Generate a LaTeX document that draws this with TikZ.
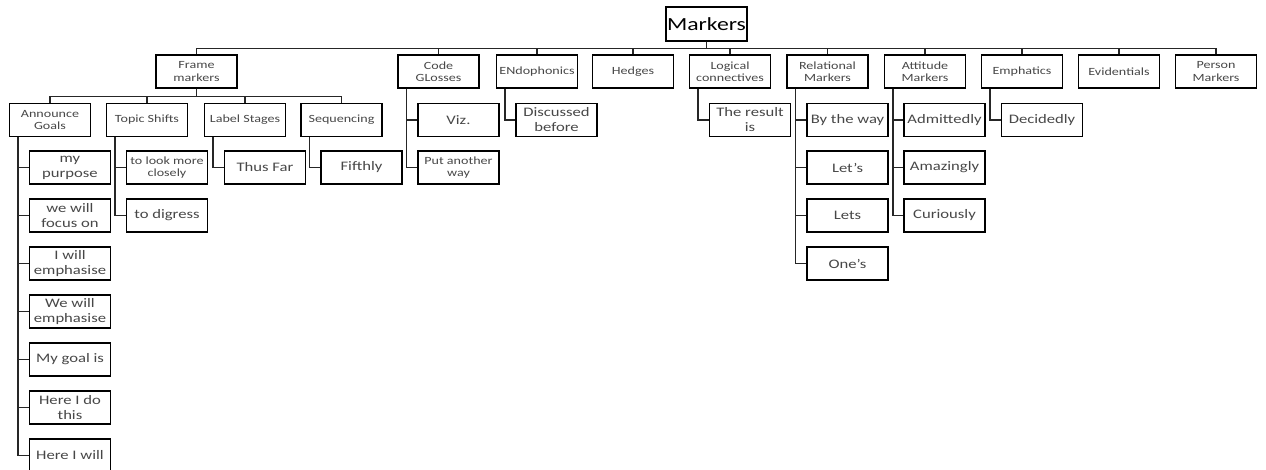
\documentclass[tikz,border=0pt]{standalone}
\usepackage{fontspec}
\setmainfont{Carlito}[FakeStretch=1.28]
\begin{document}
\begin{tikzpicture}[x=1pt,y=-1pt,
  box/.style={draw=black,line width=1.3pt,minimum width=81pt,minimum height=33pt,inner sep=1pt,align=center,text=black!72},
  sm/.style={box,font=\fontsize{11}{12.4}\selectfont},
  md/.style={box,font=\fontsize{13}{15}\selectfont},
  link/.style={draw=black!85,line width=1.3pt}]
\useasboundingbox (0,0) rectangle (1266,469);
\clip (0,0) rectangle (1266,469);
% root
\node[box,minimum width=80pt,minimum height=34pt,font=\fontsize{18.5}{20}\selectfont,text=black] (root) at (706.5,24) {Markers};
% level 1
\node[sm] (fm) at (196.5,71.5) {Frame\\markers};
\node[sm] (cg) at (438.5,71.5) {Code\\GLosses};
\node[sm] (en) at (537,71.5) {ENdophonics};
\node[sm] (hd) at (633,71.5) {Hedges};
\node[sm] (lc) at (730,71.5) {Logical\\connectives};
\node[sm] (rm) at (827.5,71.5) {Relational\\Markers};
\node[sm] (am) at (925,71.5) {Attitude\\Markers};
\node[sm] (em) at (1022,71.5) {Emphatics};
\node[sm] (ev) at (1119,71.5) {Evidentials};
\node[sm] (pm) at (1216,71.5) {Person\\Markers};
\foreach \c in {fm,cg,en,hd,lc,rm,am,em,ev,pm}
  \draw[link] (root.south) -- ++(0,7) -| (\c.north);
% level 2 under frame markers
\node[sm] (ag) at (50,120) {Announce\\Goals};
\node[sm] (ts) at (147,120) {Topic Shifts};
\node[sm] (ls) at (245,120) {Label Stages};
\node[sm] (sq) at (341.5,120) {Sequencing};
\foreach \c in {ag,ts,ls,sq}
  \draw[link] (fm.south) -- ++(0,8) -| (\c.north);
% children of other level-1 nodes
\node[md] (viz) at (458.5,120) {Viz.};
\node[sm] (pw) at (458.5,167.5) {Put another\\way};
\node[md] (disc) at (556.5,120) {Discussed\\before};
\node[md] (res) at (750,120) {The result\\is};
\node[md] (btw) at (847.5,120) {By the way};
\node[md] (lets1) at (847.5,167.5) {Let's};
\node[md] (lets2) at (847.5,215.5) {Lets};
\node[md] (ones) at (847.5,263.5) {One's};
\node[md] (adm) at (944.5,120) {Admittedly};
\node[md] (ama) at (944.5,167.5) {Amazingly};
\node[md] (cur) at (944.5,215.5) {Curiously};
\node[md] (dec) at (1042,120) {Decidedly};
\foreach \p/\c in {cg/viz,cg/pw,en/disc,lc/res,rm/btw,rm/lets1,rm/lets2,rm/ones,am/adm,am/ama,am/cur,em/dec}
  \draw[link] ([xshift=9pt]\p.south west) |- (\c.west);
% children of level 2
\node[md] (g1) at (70,167.5) {my\\purpose};
\node[md] (g2) at (70,215.5) {we will\\focus on};
\node[md] (g3) at (70,263.5) {I will\\emphasise};
\node[md] (g4) at (70,311.5) {We will\\emphasise};
\node[md] (g5) at (70,359.5) {My goal is};
\node[md] (g6) at (70,407.5) {Here I do\\this};
\node[md] (g7) at (70,455.5) {Here I will};
\node[sm] (t1) at (167,167.5) {to look more\\closely};
\node[md] (t2) at (167,215.5) {to digress};
\node[md] (l1) at (265,167.5) {Thus Far};
\node[md] (s1) at (361.5,167.5) {Fifthly};
\foreach \p/\c in {ag/g1,ag/g2,ag/g3,ag/g4,ag/g5,ag/g6,ag/g7,ts/t1,ts/t2,ls/l1,sq/s1}
  \draw[link] ([xshift=9pt]\p.south west) |- (\c.west);
\end{tikzpicture}
\end{document}
